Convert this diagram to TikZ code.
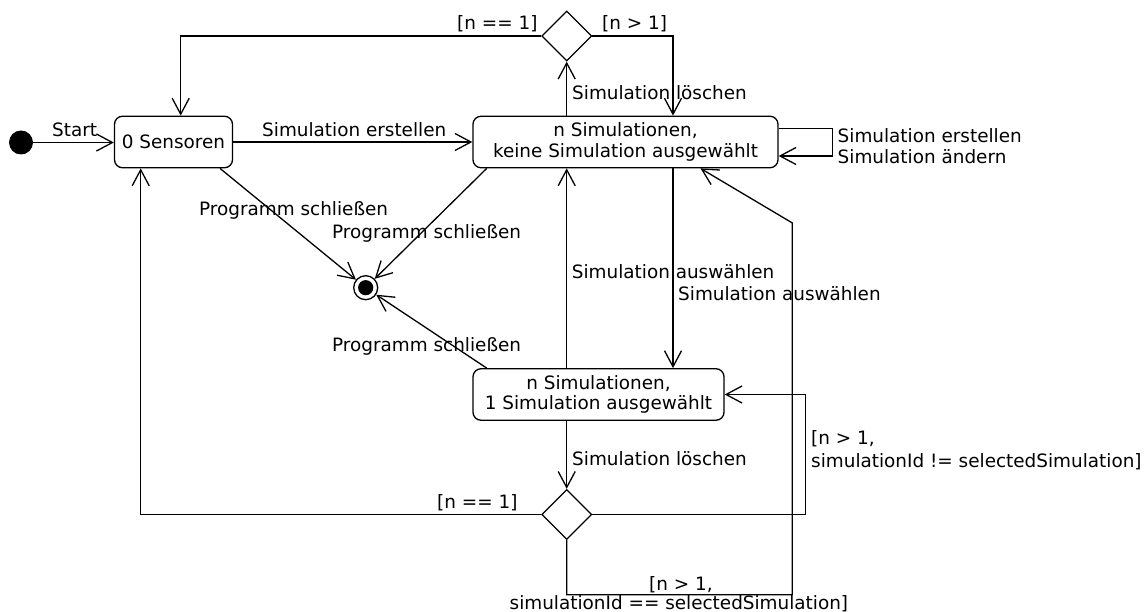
\documentclass[tikz,border=0pt]{standalone}
\usepackage{fontspec}
\setmainfont{DejaVu Sans}
\usetikzlibrary{arrows.meta,shapes.geometric}
\begin{document}
\begin{tikzpicture}[x=1pt,y=-1pt,
  every node/.style={font=\fontsize{18.4pt}{20.8pt}\selectfont},
  statebox/.style={draw,rounded corners=8pt,line width=1.3pt,minimum height=51.5pt,inner sep=0pt,align=center},
  decision/.style={draw,diamond,aspect=1,minimum width=50pt,minimum height=50pt,inner sep=0pt,line width=1.3pt},
  lbl/.style={inner sep=0pt,anchor=base west,align=left},
  tr/.style={draw,line width=1.3pt,-{Straight Barb[length=16pt,width=17pt]}},
  ln/.style={draw,line width=1.3pt}]
\useasboundingbox (0,0) rectangle (1148,612);
% nodes
\node[circle,fill,minimum size=24pt,inner sep=0pt] (init) at (21,142.5) {};
\node[statebox,minimum width=118pt] (s0) at (173.5,142) {0 Sensoren};
\node[statebox,minimum width=305pt] (sn) at (625.5,142) {n Simulationen,\\keine Simulation ausgewählt};
\node[statebox,minimum width=251pt] (s1) at (598.5,394.5) {n Simulationen,\\1 Simulation ausgewählt};
\node[decision] (d1) at (566.7,36) {};
\node[decision] (d2) at (566.7,514.5) {};
\node[circle,draw,line width=1.3pt,minimum size=24pt,inner sep=0pt] (fin) at (365.7,287.7) {};
\fill (fin.center) circle (7.6);
% connectors
\draw[tr] (init) -- (s0.west |- init);
\draw[tr] (s0) -- (sn);
\draw[tr] (d1.west) -| ([xshift=7.2pt]s0.north);
\draw[tr] (d1.east) -| ([xshift=47.5pt]sn.north);
\draw[tr] ([xshift=-58.8pt]sn.north) -- (d1.south);
\draw[tr] ([yshift=13.7pt]sn.east) -- ++(54,0) |- ([yshift=-14pt]sn.east);
\draw[tr] ([xshift=46.5pt]s0.south) -- (fin);
\draw[tr] ([xshift=-138.8pt]sn.south) -- (fin);
\draw[tr] ([xshift=-111.8pt]s1.north) -- (fin);
\draw[tr] ([xshift=-31.8pt]s1.north) -- ([xshift=-58.8pt]sn.south);
\draw[tr] ([xshift=47.5pt]sn.south) -- ([xshift=74.5pt]s1.north);
\draw[tr] ([xshift=-31.8pt]s1.south) -- (d2.north);
\draw[tr] (d2.west) -| ([xshift=-32.8pt]s0.south);
\draw[tr] (d2.east) -- ++(213.3,0) |- (s1.east);
\draw[tr] (d2.south) -- ++(0,54.5) -- ++(225.6,0) -- ++(0,-371.7) -- ([xshift=75pt]sn.south);
% labels
\node[lbl] (lstart) at (52,137) {Start};
\node[lbl] (lcreate) at (262,137) {Simulation erstellen};
\node[lbl] (lt1) at (457,30) {[n == 1]};
\node[lbl] (lt2) at (602,30) {[n > 1]};
\node[lbl] (ldel1) at (572,100) {Simulation löschen};
\node[lbl] (lloop1) at (837.5,142.3) {Simulation erstellen};
\node[lbl] (lloop2) at (837.5,163.3) {Simulation ändern};
\node[lbl] (lp1) at (199,216) {Programm schließen};
\node[lbl] (lp2) at (332,238.3) {Programm schließen};
\node[lbl] (lp3) at (332,351) {Programm schließen};
\node[lbl] (lsel1) at (571.7,278.5) {Simulation auswählen};
\node[lbl] (lsel2) at (678,300) {Simulation auswählen};
\node[lbl] (ldel2) at (572,465) {Simulation löschen};
\node[lbl] (lb1) at (437,508) {[n == 1]};
\node[lbl] (lr1) at (811,444.3) {[n > 1,};
\node[lbl] (lr2) at (811,467.3) {simulationId != selectedSimulation]};
\node[lbl] (lbot1) at (649,590) {[n > 1,};
\node[lbl] (lbot2) at (509.5,609) {simulationId == selectedSimulation]};
\end{tikzpicture}
\end{document}
